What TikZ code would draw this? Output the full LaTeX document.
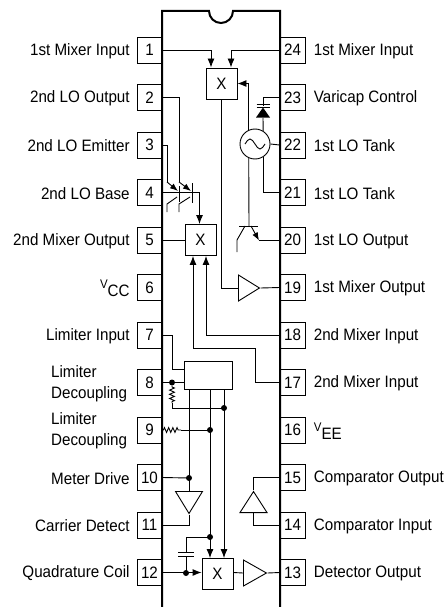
\documentclass[tikz,border=0pt]{standalone}
\usepackage{fontspec}
\setmainfont[FakeStretch=0.92]{Liberation Sans}
\usetikzlibrary{positioning,calc,arrows.meta,shapes.geometric,decorations.pathmorphing}
\tikzset{
    pinbox/.style={draw, line width=0.8pt, minimum width=25pt, minimum height=26pt, inner sep=0pt},
    pinlabel/.style={inner sep=0pt, align=left, yshift=-1pt},
    mixer/.style={draw, line width=0.9pt, minimum size=31pt, inner sep=0pt},
    amp/.style={draw, line width=0.9pt, isosceles triangle, isosceles triangle stretches, inner sep=0pt, minimum width=26pt, minimum height=21pt},
    dot/.style={circle, fill, inner sep=0pt, minimum size=6pt},
    wire/.style={line width=0.9pt},
    arrowhd/.style={-{Latex[length=9pt,width=7pt]}},
    smallhd/.style={-{Latex[length=8pt,width=6pt]}},
    resistor/.style={decorate, decoration={zigzag, amplitude=2.4pt, segment length=4.2pt, pre length=1pt, post length=1pt}},
}
\newcommand{\upV}{\raisebox{8pt}{\fontsize{12.5}{13}\selectfont V}}
\begin{document}
\begin{tikzpicture}[x=1pt, y=-1pt, font=\fontsize{16.5}{18}\selectfont, wire]
    \useasboundingbox (0,0) rectangle (447,607);
    % pins and their labels
    \foreach \n/\txt in {1/1st Mixer Input, 2/2nd LO Output, 3/2nd LO Emitter, 4/2nd LO Base, 5/2nd Mixer Output, 6/{\upV CC}, 7/Limiter Input, 10/Meter Drive, 11/Carrier Detect, 12/Quadrature Coil} {
        \node[pinbox] (p\n) at (149.5, {50+47.5*(\n-1)}) {\n};
        \node[pinlabel, left=6.5pt of p\n] (l\n) {\txt};
    }
    \foreach \n in {8,9} {
        \node[pinbox] (p\n) at (149.5, {50+47.5*(\n-1)}) {\n};
        \node[pinlabel, left=8pt of p\n, text width=77pt, font=\fontsize{16.5}{21}\selectfont] (l\n) {Limiter\\Decoupling};
    }
    \foreach \n/\txt in {24/1st Mixer Input, 23/Varicap Control, 22/1st LO Tank, 21/1st LO Tank, 20/1st LO Output, 19/1st Mixer Output, 18/2nd Mixer Input, 17/2nd Mixer Input, 16/{\upV EE}, 15/Comparator Output, 14/Comparator Input, 13/Detector Output} {
        \node[pinbox] (p\n) at (292.5, {50+47.5*(24-\n)}) {\n};
        \node[pinlabel, right=8pt of p\n] (l\n) {\txt};
    }
    % package outline
    \draw[line width=2pt] (162,607) -- (162,11) -- (209,11) arc[start angle=180, end angle=360, radius=12pt] -- (280,11) -- (280,607);
    % blocks
    \node[mixer] (mxa) at (221.5,83.5) {X};
    \node[mixer] (mxb) at (200.5,240) {X};
    \node[mixer] (mxc) at (217.5,574) {X};
    \node[draw, minimum width=48pt, minimum height=28pt, inner sep=0pt] (lim) at (208,375) {};
    \node[draw, circle, minimum size=30pt, inner sep=0pt] (osc) at (255,144) {};
    \draw (245,144) sin (250,139) cos (255,144) sin (260,149) cos (265,144);
    \node[amp, anchor=lower side] (ampa) at (238,288) {};
    \node[amp, anchor=lower side, minimum height=23pt] (ampb) at (243,573) {};
    \node[amp, anchor=lower side, shape border rotate=-90, minimum width=27pt, minimum height=22pt] (ampc) at (189,491) {};
    \node[amp, anchor=lower side, shape border rotate=90, minimum width=27pt] (ampd) at (253.5,513) {};
    \node[isosceles triangle, isosceles triangle stretches, fill, shape border rotate=90, inner sep=0pt, minimum width=14pt, minimum height=10pt, anchor=lower side] (dio) at (263,118) {};
    % first mixer and oscillator
    \draw[arrowhd] (p1.east) -| ([xshift=-10.5pt]mxa.north);
    \draw[arrowhd] (p24.west) -| ([xshift=9.5pt]mxa.north);
    \draw[arrowhd] (osc.114) |- (mxa.east);
    \draw (p23.west) -| (dio.apex);
    \draw (dio.lower side) -- (osc.58);
    \draw (256.5,104) -- (269.5,104);
    \draw (256.5,107.5) -- (269.5,107.5);
    \draw (p22.west) -- (osc.east);
    \draw (osc.-58) |- (p21.west);
    % 1st LO transistor
    \coordinate (tbase) at (249,226);
    \draw (osc.-114) -- (tbase);
    \draw (239,226) -- (258,226);
    \draw (245,226) -- (237,240) -- (237,252);
    \draw[smallhd] (251,226) -- (259,240.5);
    \draw (259,240) -- (p20.west);
    \draw (mxa.south) |- (ampa.lower side);
    \draw (ampa.apex) -- (p19.west);
    % 2nd LO transistors
    \draw (p3.east) -| (167,182);
    \draw[smallhd] (167,182) -- (178,191);
    \draw (p2.east) -| (179,182);
    \draw[smallhd] (179,182) -- (191,191);
    \draw (179,186) -- (179,202);
    \draw (192,183) -- (192,203);
    \draw (177,197) -- (167,204) -- (167,212);
    \draw (190,197) -- (179,204) -- (179,212);
    \draw[arrowhd] (p4.east) -| ([xshift=-1pt]mxb.north);
    \draw (p5.east) -- (mxb.west);
    % mixer inputs
    \draw[arrowhd] (p18.west) -| ([xshift=5.5pt]mxb.south);
    \draw[arrowhd] (p17.west) -| (255,348) -| ([xshift=-7.5pt]mxb.south);
    % limiter
    \draw (p7.east) -| (172,369) -- ([yshift=6pt]lim.west);
    \draw (p8.east) -- (lim.west |- p8.east);
    \node[dot] (da) at (172,382.5) {};
    \node[dot] (db) at (224,408) {};
    \node[dot] (dc) at (210,430) {};
    \node[dot] (dd) at (189,478) {};
    \node[dot] (de) at (210,537) {};
    \node[dot] (df) at (186,573) {};
    \draw[resistor] (da.south) -- (172,403);
    \draw (172,403) |- (db.center);
    \draw[resistor] (p9.east) -- (181,430);
    \draw (181,430) -- (dc.center);
    \draw ([xshift=-19pt]lim.south) -- (dd.center);
    \draw (dd.center) -- (ampc.lower side);
    \draw (p10.east) -- (dd.center);
    \draw (ampc.apex) |- (p11.east);
    \draw[arrowhd] ([xshift=2pt]lim.south) -- ([xshift=-7.5pt]mxc.north);
    \draw[arrowhd] ([xshift=16pt]lim.south) -- ([xshift=6.5pt]mxc.north);
    % quadrature input
    \draw (de.center) -| (186,552);
    \draw (178,552) -- (194,552);
    \draw (178,556) -- (194,556);
    \draw (186,556) -- (df.center);
    \draw[arrowhd] (p12.east) -- (mxc.west |- p12.east);
    \draw (mxc.east |- p13.west) -- (ampb.lower side);
    \draw (ampb.apex) -- (p13.west);
    % comparator
    \draw (ampd.apex) |- (p15.west);
    \draw (ampd.lower side) |- (p14.west);
\end{tikzpicture}
\end{document}
